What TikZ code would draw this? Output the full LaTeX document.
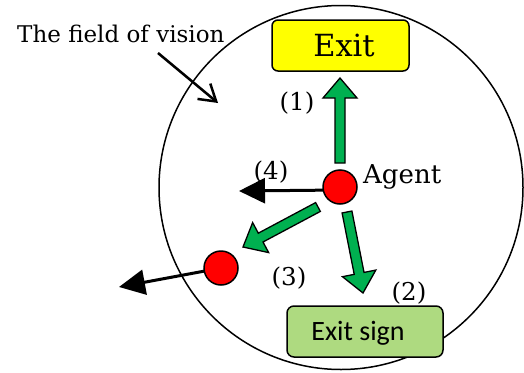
\documentclass[tikz,border=0pt]{standalone}
\usepackage{fontspec}
\setmainfont{DejaVu Serif}
\newfontfamily\signfont{Carlito}
\usetikzlibrary{calc,arrows.meta}
\definecolor{arrowgreen}{RGB}{0,176,80}
\definecolor{signgreen}{RGB}{174,218,128}
\definecolor{exityellow}{RGB}{255,255,0}
\tikzset{
  fatarrow/.style={draw=black,line width=1.3pt,fill=arrowgreen,line join=miter},
  blackarrow/.style={draw=black,line width=3pt,-{Triangle[length=26pt,width=25pt]}},
  agentdot/.style={circle,draw=black,line width=1.5pt,fill=red,minimum size=34pt,inner sep=0pt},
  exitbox/.style={draw=black,line width=1.5pt,fill=exityellow,rounded corners=6pt,minimum width=137pt,minimum height=51pt,inner sep=0pt,font=\fontsize{30.5}{36}\selectfont},
  signbox/.style={draw=black,line width=1.5pt,fill=signgreen,rounded corners=7pt,minimum width=156pt,minimum height=51pt,inner sep=0pt},
  signtext/.style={inner sep=0pt,text depth=0pt,font=\signfont\fontsize{28}{32}\selectfont},
  numlabel/.style={inner sep=0pt,font=\fontsize{24.5}{30}\selectfont},
}
\newcommand\fatarrowdraw[2]{%
  \coordinate (fah) at ($(#2)!20pt!(#1)$);
  \draw[fatarrow] ($(#1)!5pt!90:(#2)$) -- ($(fah)!5pt!90:(#2)$) -- ($(fah)!17pt!90:(#2)$) -- (#2) -- ($(fah)!17pt!-90:(#2)$) -- ($(fah)!5pt!-90:(#2)$) -- ($(#1)!5pt!-90:(#2)$) -- cycle;}
\begin{document}
\begin{tikzpicture}[x=1pt,y=-1pt]
\useasboundingbox (0,0) rectangle (524,372);
% field of vision
\node[draw=black,line width=1.5pt,circle,minimum size=364pt,inner sep=0pt] (field) at (341,187.5) {};
\node[anchor=base west,inner sep=0pt,font=\fontsize{23}{28}\selectfont] (fieldtext) at (17,42) {The field of vision};
\coordinate (fvs) at (158,53);
\coordinate (fvt) at (218,103);
\draw[line width=2.5pt,-{Straight Barb[length=16pt,width=20pt]}] (fvs) -- (fvt);
% exit
\node[exitbox] (exit) at (340.5,45.5) {\hspace*{7pt}Exit};
% agents
\coordinate (agentc) at (340,187);
\coordinate (agent2c) at (221,268);
\coordinate (b4t) at (239,191);
\coordinate (b3t) at (119,287);
\draw[blackarrow] ($(agentc)+(0,3)$) -- (b4t);
\draw[blackarrow] (agent2c) -- (b3t);
\node[agentdot] (agent) at (agentc) {};
\node[agentdot] (agent2) at (agent2c) {};
% green arrows
\coordinate (a1s) at (340,163);
\coordinate (a1t) at (340,78);
\coordinate (a2s) at (347,212);
\coordinate (a2t) at (363,293);
\coordinate (a3s) at (318,207);
\coordinate (a3t) at (243,247);
\fatarrowdraw{a1s}{a1t}
\fatarrowdraw{a2s}{a2t}
\fatarrowdraw{a3s}{a3t}
% labels
\node[anchor=base west,inner sep=0pt,font=\fontsize{26}{32}\selectfont] (agentlabel) at (363,183) {Agent};
\node[numlabel] (l1) at (297,103) {(1)};
\node[numlabel] (l4) at (271,172) {(4)};
\node[numlabel] (l3) at (289,278) {(3)};
\node[numlabel] (l2) at (409,293) {(2)};
% exit sign
\node[signbox] (sign) at (365,331.5) {};
\node[signtext] (signlabel) at (358,331) {Exit sign};
\end{tikzpicture}
\end{document}
